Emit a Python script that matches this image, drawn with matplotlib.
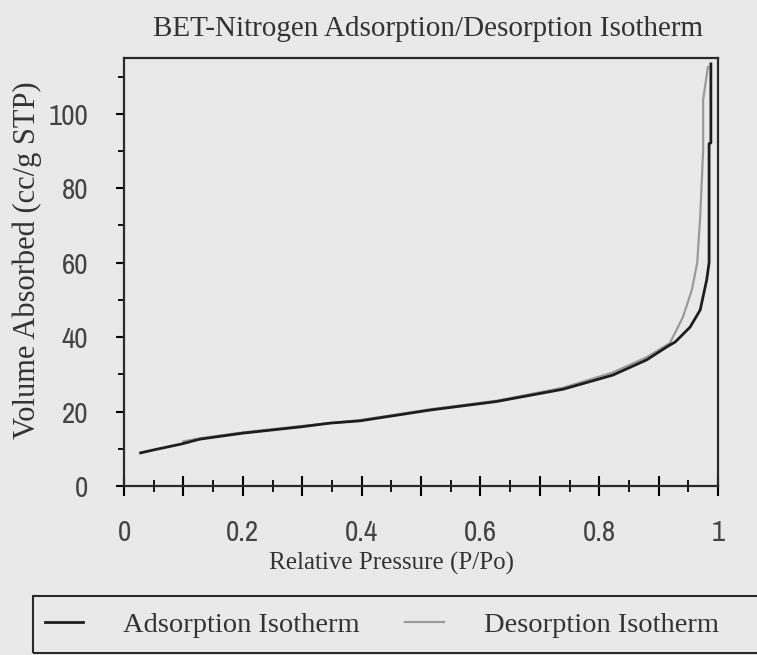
import matplotlib
matplotlib.use("Agg")
import matplotlib.pyplot as plt
from matplotlib import font_manager
from matplotlib.patches import Rectangle
from matplotlib.ticker import MultipleLocator, FuncFormatter

# isotherm data
ads_x = [0.028, 0.05, 0.097, 0.128, 0.2, 0.298, 0.347, 0.397, 0.515, 0.627,
         0.739, 0.823, 0.88, 0.916, 0.928, 0.953, 0.970, 0.981, 0.985, 0.985,
         0.988, 0.988]
ads_y = [8.9, 9.7, 11.3, 12.6, 14.2, 15.9, 16.9, 17.5, 20.4, 22.7,
         26.0, 29.8, 33.9, 37.6, 38.7, 42.7, 47.3, 55.4, 60.0, 92.0,
         92.2, 113.4]

des_x = [0.983, 0.975, 0.975, 0.970, 0.965, 0.956, 0.941, 0.919, 0.88, 0.823,
         0.739, 0.627, 0.515, 0.397, 0.298, 0.2, 0.128, 0.1]
des_y = [112.6, 103.8, 90.3, 72.3, 60.0, 52.7, 45.4, 38.4, 34.6, 30.5,
         26.4, 22.9, 20.6, 17.7, 16.1, 14.4, 12.8, 12.0]

x_labels = ["0", "0.2", "0.4", "0.6", "0.8", "1"]

bg = "#e9e9e9"
serif = "Liberation Serif"
installed = {f.name for f in font_manager.fontManager.ttflist}
tick_font = "Liberation Sans"
for cand in ["Liberation Sans Narrow", "Arial Narrow", "Archivo Narrow",
             "PT Sans Narrow", "Roboto Condensed", "Pragati Narrow"]:
    if cand in installed:
        tick_font = cand
        break

fig = plt.figure(figsize=(7.57, 6.55), dpi=100, facecolor=bg)
ax = fig.add_axes([124 / 757, 1 - 486 / 655, 594 / 757, 428 / 655])
ax.set_facecolor(bg)

ax.plot(des_x, des_y, color="#9a9a9a", lw=1.6, zorder=2, label="Desorption Isotherm")
ax.plot(ads_x, ads_y, color="#1e1e1e", lw=2.0, zorder=3, label="Adsorption Isotherm")

ax.set_xlim(0, 1)
ax.set_ylim(0, 115)

ax.xaxis.set_major_locator(MultipleLocator(0.1))
ax.xaxis.set_minor_locator(MultipleLocator(0.05))
ax.xaxis.set_major_formatter(FuncFormatter(
    lambda v, p: x_labels[int(round(v * 5))] if abs(v * 5 - round(v * 5)) < 1e-6 else ""))
ax.yaxis.set_major_locator(MultipleLocator(20))
ax.yaxis.set_minor_locator(MultipleLocator(10))

ax.tick_params(axis="x", which="major", direction="inout", length=14, width=1.5, pad=17)
ax.tick_params(axis="x", which="minor", direction="inout", length=8, width=1.3)
ax.tick_params(axis="y", which="major", direction="out", length=6, width=1.5, pad=20)
ax.tick_params(axis="y", which="minor", direction="out", length=4, width=1.3)
for lab in ax.get_xticklabels() + ax.get_yticklabels():
    lab.set_fontfamily(tick_font)
    lab.set_fontsize(21)
    lab.set_fontweight("light")
    lab.set_color("#444444")

for s in ax.spines.values():
    s.set_linewidth(1.6)
    s.set_color("#2a2a2a")

ax.set_title("BET-Nitrogen Adsorption/Desorption Isotherm", family=serif,
             fontsize=21, color="#333333", pad=16, x=0.511)
ax.set_xlabel("Relative Pressure (P/Po)", family=serif, fontsize=18,
              color="#333333", va="center")
ax.xaxis.set_label_coords(0.45, -0.18)
ax.set_ylabel("Volume Absorbed (cc/g STP)", family=serif, fontsize=22,
              color="#333333")
ax.yaxis.set_label_coords(-0.138, 0.528)

# legend box running off the right and bottom edges, like the scan
fig.patches.append(Rectangle((33 / 757, 2 / 655), 0.98, 57 / 655,
                             transform=fig.transFigure, facecolor="none",
                             edgecolor="#2a2a2a", lw=1.5))
handles, labels = ax.get_legend_handles_labels()
fig.legend(handles[::-1], labels[::-1], loc="center left", ncol=2,
           bbox_to_anchor=(45 / 757, 1 - 625 / 655), frameon=False,
           prop={"family": serif, "size": 20.5}, handlelength=1.35,
           handletextpad=1.4, columnspacing=1.6, borderpad=0,
           borderaxespad=0, labelcolor="#333333")

fig.savefig("out.png", dpi=100, facecolor=bg)
